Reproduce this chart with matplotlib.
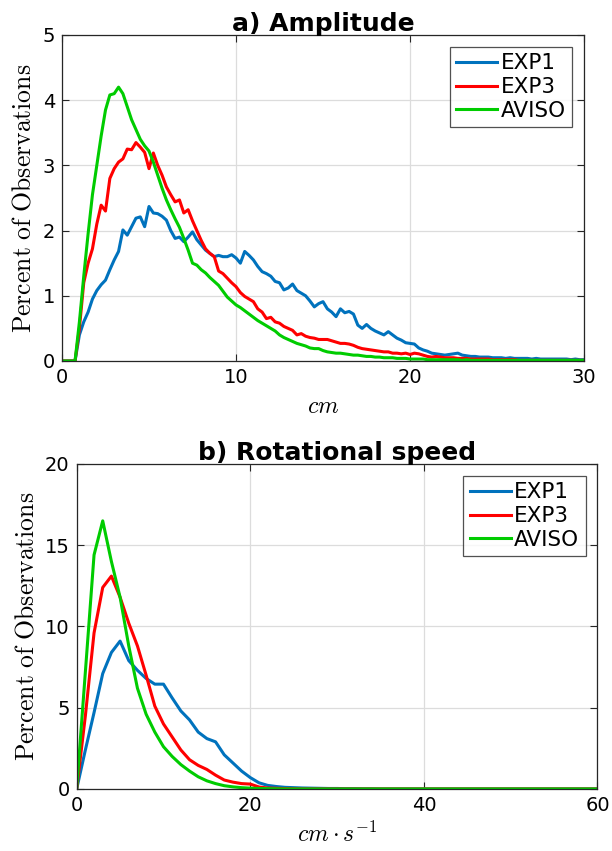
import matplotlib.pyplot as plt
import numpy as np

# a) Amplitude, 0.25 cm bins from 0 to 30 cm
amp_x = np.arange(0, 30.01, 0.25)
amp_exp1 = [
    0, 0, 0, 0, 0.4, 0.6, 0.75, 0.95,
    1.08, 1.17, 1.24, 1.4, 1.55, 1.68, 2.01, 1.93,
    2.06, 2.19, 2.21, 2.06, 2.37, 2.27, 2.26, 2.22,
    2.16, 2.0, 1.88, 1.9, 1.83, 1.9, 1.98, 1.86,
    1.78, 1.7, 1.65, 1.6, 1.62, 1.6, 1.6, 1.63,
    1.58, 1.5, 1.68, 1.62, 1.55, 1.45, 1.37, 1.34,
    1.3, 1.22, 1.2, 1.09, 1.12, 1.18, 1.08, 1.04,
    1.0, 0.92, 0.83, 0.88, 0.91, 0.8, 0.75, 0.68,
    0.8, 0.74, 0.76, 0.72, 0.55, 0.5, 0.56, 0.5,
    0.46, 0.43, 0.4, 0.45, 0.4, 0.35, 0.32, 0.28,
    0.27, 0.26, 0.2, 0.17, 0.15, 0.12, 0.11, 0.1,
    0.09, 0.1, 0.11, 0.12, 0.09, 0.08, 0.07, 0.07,
    0.06, 0.06, 0.06, 0.05, 0.05, 0.05, 0.04, 0.05,
    0.04, 0.04, 0.04, 0.04, 0.03, 0.04, 0.03, 0.03,
    0.03, 0.03, 0.03, 0.03, 0.03, 0.02, 0.03, 0.02,
    0.02,
]
amp_exp3 = [
    0, 0, 0, 0, 0.5, 1.2, 1.5, 1.72,
    2.1, 2.39, 2.3, 2.8, 2.95, 3.05, 3.1, 3.25,
    3.24, 3.35, 3.28, 3.2, 2.95, 3.19, 3.0, 2.85,
    2.67, 2.55, 2.44, 2.47, 2.27, 2.32, 2.15, 2.0,
    1.85, 1.72, 1.65, 1.6, 1.38, 1.34, 1.27, 1.2,
    1.14, 1.05, 0.99, 0.95, 0.91, 0.8, 0.75, 0.65,
    0.67, 0.6, 0.58, 0.53, 0.5, 0.47, 0.4, 0.42,
    0.38, 0.36, 0.35, 0.33, 0.33, 0.33, 0.31, 0.29,
    0.27, 0.27, 0.26, 0.24, 0.21, 0.19, 0.18, 0.17,
    0.16, 0.15, 0.14, 0.14, 0.12, 0.12, 0.11, 0.12,
    0.1, 0.12, 0.11, 0.09, 0.07, 0.06, 0.07, 0.06,
    0.05, 0.05, 0.05, 0.04, 0.04, 0.04, 0.03, 0.03,
    0.03, 0.03, 0.03, 0.02, 0.02, 0.02, 0.02, 0.02,
    0.02, 0.01, 0.01, 0.01, 0.01, 0.01, 0.01, 0.01,
    0.01, 0.01, 0.01, 0.01, 0.01, 0.01, 0.01, 0.01,
    0.01,
]
amp_aviso = [
    0, 0, 0, 0, 0.6, 1.3, 1.95, 2.55,
    3.0, 3.45, 3.85, 4.08, 4.1, 4.2, 4.1, 3.9,
    3.7, 3.55, 3.4, 3.3, 3.22, 3.05, 2.85, 2.65,
    2.47, 2.32, 2.18, 2.05, 1.88, 1.7, 1.5, 1.47,
    1.4, 1.35, 1.28, 1.22, 1.16, 1.07, 0.98, 0.92,
    0.86, 0.82, 0.77, 0.72, 0.67, 0.62, 0.58, 0.54,
    0.5, 0.46, 0.4, 0.36, 0.33, 0.3, 0.27, 0.25,
    0.23, 0.2, 0.19, 0.19, 0.16, 0.14, 0.13, 0.12,
    0.12, 0.11, 0.1, 0.09, 0.09, 0.08, 0.07, 0.07,
    0.06, 0.06, 0.05, 0.05, 0.05, 0.04, 0.04, 0.04,
    0.03, 0.03, 0.03, 0.03, 0.02, 0.02, 0.02, 0.02,
    0.02, 0.02, 0.02, 0.02, 0.01, 0.02, 0.01, 0.01,
    0.01, 0.01, 0.01, 0.01, 0.01, 0.01, 0.01, 0.01,
    0.01, 0.01, 0.01, 0.01, 0.01, 0.01, 0.01, 0.01,
    0.01, 0.01, 0.01, 0.01, 0.01, 0.01, 0.01, 0.01,
    0.01,
]

# b) Rotational speed, 1 cm/s bins from 0 to 60
rot_x = np.arange(0, 61, 1)
rot_exp1 = [
    0, 2.4, 4.7, 7.1, 8.4, 9.1, 7.9, 7.3, 6.8, 6.45,
    6.45, 5.6, 4.8, 4.25, 3.5, 3.1, 2.9, 2.1, 1.6, 1.1,
    0.7, 0.38, 0.22, 0.15, 0.1, 0.08, 0.06, 0.05, 0.04, 0.03,
    0.03, 0.02, 0.02, 0.01, 0.01, 0, 0, 0, 0, 0,
    0, 0, 0, 0, 0, 0, 0, 0, 0, 0,
    0, 0, 0, 0, 0, 0, 0, 0, 0, 0,
    0,
]
rot_exp3 = [
    0, 4.5, 9.6, 12.4, 13.1, 11.8, 10.2, 8.8, 7.0, 5.1,
    4.0, 3.2, 2.4, 1.8, 1.45, 1.2, 0.85, 0.55, 0.42, 0.33,
    0.3, 0.12, 0.06, 0.04, 0.02, 0.01, 0, 0, 0, 0,
    0, 0, 0, 0, 0, 0, 0, 0, 0, 0,
    0, 0, 0, 0, 0, 0, 0, 0, 0, 0,
    0, 0, 0, 0, 0, 0, 0, 0, 0, 0,
    0,
]
rot_aviso = [
    0, 7.2, 14.4, 16.5, 14.0, 11.8, 8.8, 6.2, 4.6, 3.5,
    2.6, 2.0, 1.5, 1.1, 0.75, 0.5, 0.33, 0.2, 0.13, 0.08,
    0.05, 0.03, 0.02, 0.01, 0, 0, 0, 0, 0, 0,
    0, 0, 0, 0, 0, 0, 0, 0, 0, 0,
    0, 0, 0, 0, 0, 0, 0, 0, 0, 0,
    0, 0, 0, 0, 0, 0, 0, 0, 0, 0,
    0,
]

labels = ["EXP1", "EXP3", "AVISO"]
colors = ["#0072BD", "#FF0000", "#00CC00"]

plt.rcParams['mathtext.fontset'] = 'cm'

fig = plt.figure(figsize=(6.12, 8.51), dpi=100)
ax1 = fig.add_axes([0.1013, 0.5758, 0.853, 0.3831])
ax2 = fig.add_axes([0.1253, 0.0729, 0.851, 0.3819])


def style_axes(ax, title, xlabel, xlim, ylim, xticks, yticks):
    ax.set_xlim(xlim)
    ax.set_ylim(ylim)
    ax.set_xticks(xticks)
    ax.set_yticks(yticks)
    ax.grid(True, color='#dcdcdc', linewidth=0.9)
    ax.set_axisbelow(True)
    ax.tick_params(direction='in', top=True, right=True, labelsize=14,
                   length=5, color='#262626', pad=5)
    for sp in ax.spines.values():
        sp.set_color('#262626')
        sp.set_linewidth(0.9)
    ax.set_title(title, fontsize=18, fontweight='bold', pad=3)
    ax.set_xlabel(xlabel, fontsize=17, labelpad=5)
    ax.set_ylabel(r'$\mathrm{Percent\ of\ Observations}$', fontsize=18.5,
                  labelpad=4)
    leg = ax.legend(loc='upper right', fontsize=15.5, frameon=True,
                    fancybox=False, handlelength=1.9, handletextpad=0.15,
                    borderpad=0.3, labelspacing=0.18, borderaxespad=0.55)
    leg.get_frame().set_edgecolor('#262626')
    leg.get_frame().set_linewidth(0.9)


for y, lab, c in zip([amp_exp1, amp_exp3, amp_aviso], labels, colors):
    ax1.plot(amp_x, y, color=c, lw=2.2, label=lab)
style_axes(ax1, "a) Amplitude", r'$cm$', (0, 30), (0, 5),
           [0, 10, 20, 30], [0, 1, 2, 3, 4, 5])

for y, lab, c in zip([rot_exp1, rot_exp3, rot_aviso], labels, colors):
    ax2.plot(rot_x, y, color=c, lw=2.2, label=lab)
style_axes(ax2, "b) Rotational speed", r'$cm \cdot s^{-1}$', (0, 60), (0, 20),
           [0, 20, 40, 60], [0, 5, 10, 15, 20])

fig.savefig("out.png", dpi=100)
